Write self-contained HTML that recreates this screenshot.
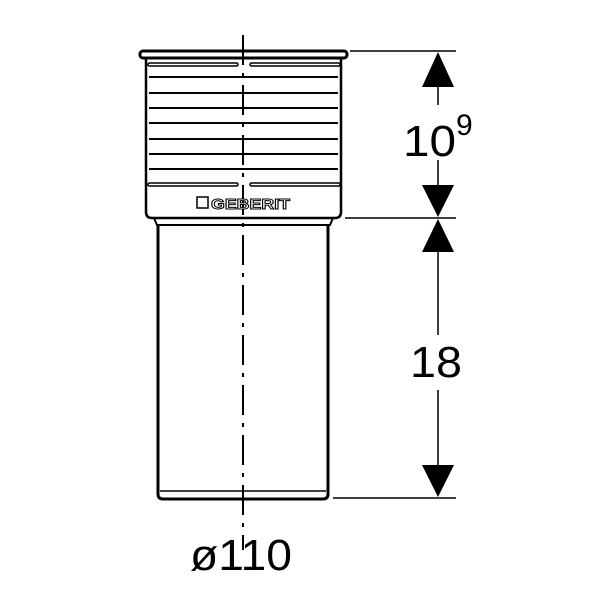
<!DOCTYPE html>
<html><head><style>body{margin:0;background:#fff}</style></head><body>
<svg width="600" height="600" viewBox="0 0 600 600" xmlns="http://www.w3.org/2000/svg" font-family="Liberation Sans, sans-serif">
<g fill="none" stroke="#000">
<rect x="140" y="51" width="207" height="7" rx="3" stroke-width="3"/>
<path d="M146 58 L146 212 Q146 218 152 218 L335 218 Q341 218 341 212 L341 58" stroke-width="2.5"/>
<g stroke-width="2">
<line x1="149" y1="77" x2="338" y2="77"/>
<line x1="149" y1="93" x2="338" y2="93"/>
<line x1="149" y1="108" x2="338" y2="108"/>
<line x1="149" y1="123" x2="338" y2="123"/>
<line x1="149" y1="139" x2="338" y2="139"/>
<line x1="149" y1="154" x2="338" y2="154"/>
<line x1="149" y1="169" x2="338" y2="169"/>
</g>
<g stroke-width="1.5">
<rect x="148" y="63" width="90" height="3" rx="1.5"/>
<rect x="250" y="63" width="90" height="3" rx="1.5"/>
<rect x="148" y="183" width="90" height="3" rx="1.5"/>
<rect x="250" y="183" width="90" height="3" rx="1.5"/>
</g>
<path d="M154 218 L157 225 L330 225 L333 218" stroke-width="2"/>
<path d="M158 225 L158 494 Q158 499 163 499 L323 499 Q328 499 328 494 L328 225" stroke-width="3"/>
<line x1="160" y1="491" x2="326" y2="491" stroke-width="1.5"/>
<line x1="243" y1="35" x2="243" y2="550" stroke-width="2" stroke-dasharray="30,8,4,8"/>
<g stroke-width="1.5">
<line x1="350" y1="51" x2="456" y2="51"/>
<line x1="345" y1="218" x2="456" y2="218"/>
<line x1="333" y1="498" x2="456" y2="498"/>
<line x1="438" y1="85" x2="438" y2="105"/>
<line x1="438" y1="160" x2="438" y2="187"/>
<line x1="438" y1="250" x2="438" y2="335"/>
<line x1="438" y1="390" x2="438" y2="467"/>
</g>
</g>
<g fill="#000">
<polygon points="438,52 422,87 454,87"/>
<polygon points="438,217 422,185 454,185"/>
<polygon points="438,219 422,252 454,252"/>
<polygon points="438,497 422,465 454,465"/>
</g>
<rect x="197" y="197" width="11" height="11" fill="none" stroke="#000" stroke-width="1.5"/>
<text x="211" y="209" font-size="15" font-weight="bold" fill="#fff" stroke="#000" stroke-width="1" textLength="79" lengthAdjust="spacingAndGlyphs">GEBERIT</text>
<text x="403" y="156" font-size="44" fill="#000" textLength="53" lengthAdjust="spacingAndGlyphs">10</text>
<text x="456" y="135" font-size="30" fill="#000">9</text>
<text x="410" y="377" font-size="44" fill="#000" textLength="52" lengthAdjust="spacingAndGlyphs">18</text>
<text x="190" y="570" font-size="44" fill="#000" textLength="102" lengthAdjust="spacingAndGlyphs">ø110</text>
</svg>
</body></html>
